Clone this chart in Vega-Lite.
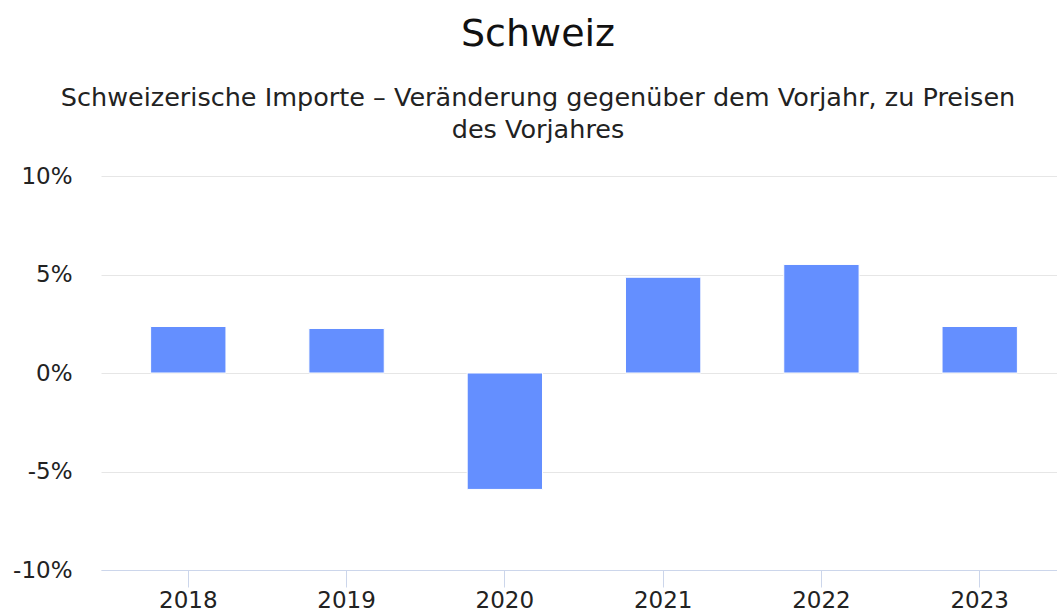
{
  "$schema": "https://vega.github.io/schema/vega-lite/v6.json",
  "autosize": "none",
  "width": 966,
  "height": 394,
  "padding": {"left": 101, "top": 176, "right": 0, "bottom": 40},
  "background": "white",
  "title": {
    "text": "Schweiz",
    "subtitle": ["Schweizerische Importe – Veränderung gegenüber dem Vorjahr, zu Preisen", "des Vorjahres"],
    "anchor": "middle",
    "frame": "group",
    "dx": -46,
    "offset": 22,
    "font": "DejaVu Sans",
    "fontSize": 38,
    "fontWeight": "normal",
    "color": "#111111",
    "subtitleFont": "DejaVu Sans",
    "subtitleFontSize": 25.5,
    "subtitleColor": "#222222",
    "subtitleLineHeight": 32,
    "subtitlePadding": 32
  },
  "data": {
    "values": [
      {"year": "2018", "value": 2.36},
      {"year": "2019", "value": 2.26},
      {"year": "2020", "value": -5.91},
      {"year": "2021", "value": 4.86},
      {"year": "2022", "value": 5.51},
      {"year": "2023", "value": 2.36}
    ]
  },
  "mark": {"type": "bar", "color": "#648fff", "stroke": "#ffffff", "strokeWidth": 1},
  "encoding": {
    "x": {
      "field": "year",
      "type": "ordinal",
      "scale": {"paddingInner": 0.524, "paddingOuter": 0.3135},
      "axis": {
        "title": null,
        "labelAngle": 0,
        "labelFont": "DejaVu Sans",
        "labelFontSize": 23,
        "labelColor": "#222222",
        "domainColor": "#ccd6eb",
        "domainWidth": 1,
        "tickColor": "#ccd6eb",
        "tickSize": 17,
        "tickWidth": 1,
        "labelPadding": 2,
        "grid": false
      }
    },
    "y": {
      "field": "value",
      "type": "quantitative",
      "scale": {"domain": [-10, 10], "nice": false, "zero": false},
      "axis": {
        "title": null,
        "values": [-10, -5, 0, 5, 10],
        "labelExpr": "datum.value + '%'",
        "labelFont": "DejaVu Sans",
        "labelFontSize": 23,
        "labelColor": "#222222",
        "labelPadding": 29,
        "ticks": false,
        "domain": false,
        "grid": true,
        "gridColor": "#e6e6e6",
        "gridWidth": 1
      }
    }
  },
  "config": {"view": {"stroke": null}}
}
